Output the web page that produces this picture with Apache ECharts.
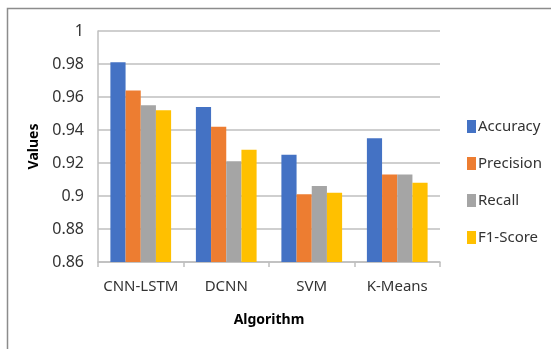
<!DOCTYPE html>
<html>
<head>
<meta charset="utf-8">
<script src="https://cdn.jsdelivr.net/npm/echarts@6/dist/echarts.min.js"></script>
<style>
  html, body { margin: 0; padding: 0; background: #fff; }
  #chart { width: 551px; height: 349px; }
</style>
</head>
<body>
<div id="chart"></div>
<script>
// algorithms on x axis
const algorithms = ["CNN-LSTM", "DCNN", "SVM", "K-Means"];
// metric values per algorithm
const accuracy = [0.981, 0.954, 0.925, 0.935];
const precision = [0.964, 0.942, 0.901, 0.913];
const recall = [0.955, 0.921, 0.906, 0.913];
const f1Score = [0.952, 0.928, 0.902, 0.908];

const colors = ["#4472C4", "#ED7D31", "#A5A5A5", "#FFC000"];
const fontFam = "'Noto Sans', sans-serif";

function makeSeries(name, data) {
  return {
    name: name,
    type: "bar",
    data: data,
    barGap: "0%",
    barCategoryGap: "29%"
  };
}

let myChart = echarts.init(document.getElementById("chart"));
let option = {
  animation: false,
  color: colors,
  grid: { left: 98, right: 111, top: 31, bottom: 87 },
  // outer chart border (open to the right and bottom)
  graphic: [{
    type: "rect",
    shape: { x: 7.5, y: 8.5, width: 600, height: 400 },
    style: { fill: null, stroke: "#8c8c8c", lineWidth: 1.5 },
    silent: true
  }],
  legend: {
    orient: "vertical",
    left: 462,
    top: 114,
    itemWidth: 9,
    itemHeight: 13,
    itemGap: 22,
    icon: "rect",
    textStyle: { fontFamily: fontFam, fontSize: 15, color: "#333", padding: [0, 0, 0, -3] },
    data: ["Accuracy", "Precision", "Recall", "F1-Score"]
  },
  xAxis: {
    type: "category",
    data: algorithms,
    name: "Algorithm",
    nameLocation: "middle",
    nameGap: 51,
    nameTextStyle: { fontFamily: fontFam, fontWeight: "bold", fontSize: 14, color: "#000" },
    axisLine: { lineStyle: { color: "#bfbfbf", width: 1.5 } },
    axisTick: { show: true, interval: 0, length: 5, lineStyle: { color: "#bfbfbf", width: 1.5 } },
    axisLabel: { interval: 0, fontFamily: fontFam, fontSize: 15, color: "#333", margin: 17 }
  },
  yAxis: {
    type: "value",
    min: 0.86,
    max: 1,
    interval: 0.02,
    name: "Values",
    nameLocation: "middle",
    nameRotate: 90,
    nameGap: 49,
    nameTextStyle: { fontFamily: fontFam, fontWeight: "bold", fontSize: 14, color: "#000" },
    axisLine: { show: true, lineStyle: { color: "#bfbfbf", width: 1.5 } },
    axisTick: { show: false },
    splitLine: { lineStyle: { color: "#bfbfbf", width: 1.5 } },
    axisLabel: {
      fontFamily: fontFam, fontSize: 16, color: "#333", margin: 14,
      formatter: function (v) { return String(parseFloat(v.toFixed(2))); }
    }
  },
  series: [
    makeSeries("Accuracy", accuracy),
    makeSeries("Precision", precision),
    makeSeries("Recall", recall),
    makeSeries("F1-Score", f1Score)
  ]
};
myChart.setOption(option);
</script>
</body>
</html>
